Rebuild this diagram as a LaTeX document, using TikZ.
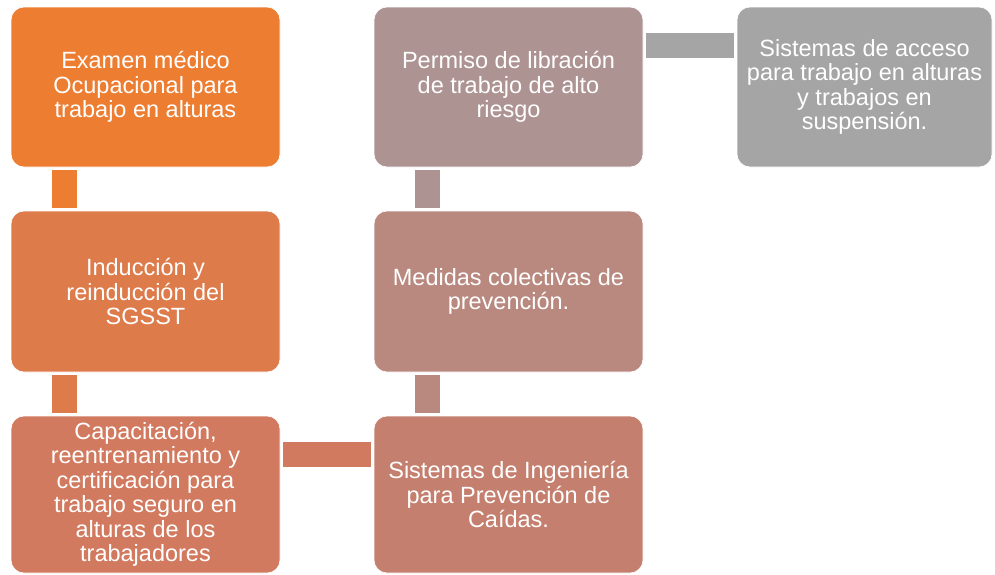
\documentclass[tikz,border=0pt]{standalone}
\usepackage{fontspec}
\setmainfont{Liberation Sans}
\usepackage{tikz}
\usepackage{xcolor}
\definecolor{paso1}{RGB}{237,125,49}
\definecolor{paso2}{RGB}{222,123,75}
\definecolor{paso3}{RGB}{210,122,95}
\definecolor{paso4}{RGB}{197,127,110}
\definecolor{paso5}{RGB}{185,137,128}
\definecolor{paso6}{RGB}{174,147,147}
\definecolor{paso7}{RGB}{165,165,165}
\tikzset{
  caja/.style={rectangle, rounded corners=13pt, draw=white, line width=0.6pt,
    text=white, align=center, inner sep=0pt, minimum width=269pt,
    minimum height=160pt, font=\fontsize{23.5}{24.5}\selectfont},
  enlace/.style={line width=25pt, shorten <=3pt, shorten >=3pt}
}

\begin{document}
\begin{tikzpicture}[x=1pt,y=-1pt]
        \useasboundingbox (0,0) rectangle (995,574);

        \node[caja, fill=paso1] (examen) at (145.5,87) {Examen médico\\Ocupacional para\\trabajo en alturas};
        \node[caja, fill=paso2, minimum height=161pt] (induccion) at (145.5,291.5) {Inducción y\\reinducción del\\SGSST};
        \node[caja, fill=paso3, minimum height=157pt] (capacitacion) at (145.5,494.5) {Capacitación,\\reentrenamiento y\\certificación para\\trabajo seguro en\\alturas de los\\trabajadores};
        \node[caja, fill=paso4, minimum height=157pt] (ingenieria) at (508.5,494.5) {Sistemas de Ingeniería\\para Prevención de\\Caídas.};
        \node[caja, fill=paso5, minimum height=161pt] (medidas) at (508.5,291.5) {Medidas colectivas de\\prevención.};
        \node[caja, fill=paso6] (permiso) at (508.5,87) {Permiso de libración\\de trabajo de alto\\riesgo};
        \node[caja, fill=paso7, minimum width=255pt] (acceso) at (864.5,87) {Sistemas de acceso\\para trabajo en alturas\\y trabajos en\\suspensión.};

        \draw[enlace, paso1] ([xshift=53.5pt]examen.south west) -- ([xshift=53.5pt]induccion.north west);
        \draw[enlace, paso2] ([xshift=53.5pt]induccion.south west) -- ([xshift=53.5pt]capacitacion.north west);
        \draw[enlace, paso3] ([yshift=-38.5pt]capacitacion.north east) -- ([yshift=-38.5pt]ingenieria.north west);
        \draw[enlace, paso5] ([xshift=53.5pt]ingenieria.north west) -- ([xshift=53.5pt]medidas.south west);
        \draw[enlace, paso6] ([xshift=53.5pt]medidas.north west) -- ([xshift=53.5pt]permiso.south west);
        \draw[enlace, paso7] ([yshift=-38.5pt]permiso.north east) -- ([yshift=-38.5pt]acceso.north west);
\end{tikzpicture}
\end{document}
